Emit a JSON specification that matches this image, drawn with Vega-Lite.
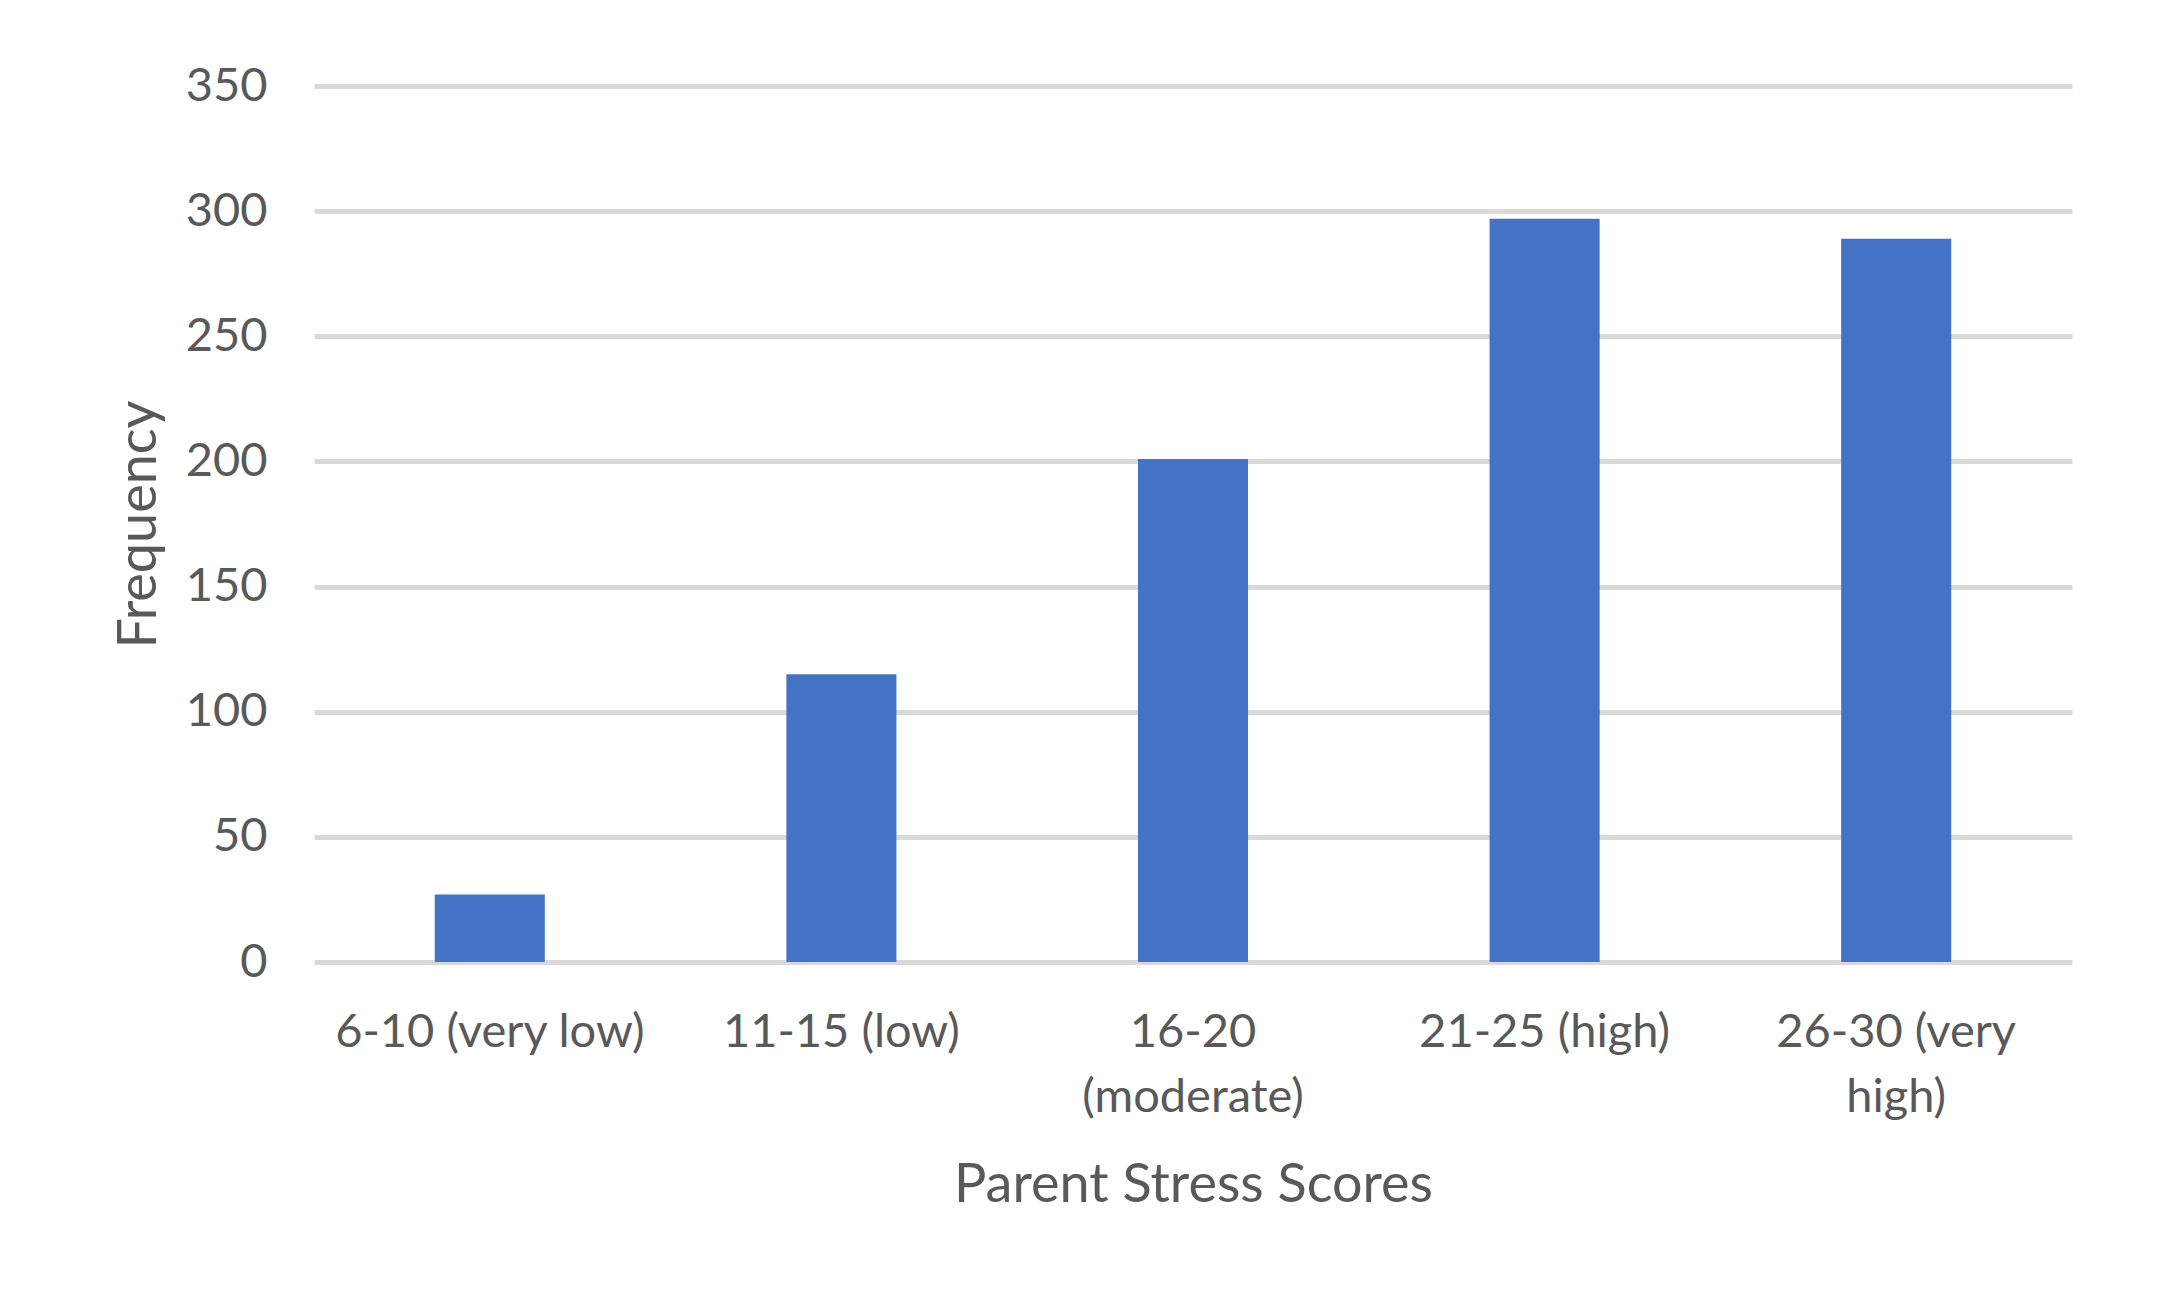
{
  "$schema": "https://vega.github.io/schema/vega-lite/v6.json",
  "autosize": {"type": "none"},
  "width": 1758,
  "height": 876,
  "padding": {"left": 314, "top": 86, "right": 87, "bottom": 350},
  "background": "white",
  "config": {
    "view": {"stroke": null},
    "font": "Lato",
    "axis": {"labelFont": "Lato", "titleFont": "Lato", "labelColor": "#595959", "titleColor": "#595959", "titleFontWeight": "normal"}
  },
  "data": {
    "values": [
      {"score": "6-10 (very low)", "frequency": 27},
      {"score": "11-15 (low)", "frequency": 115},
      {"score": "16-20 (moderate)", "frequency": 201},
      {"score": "21-25 (high)", "frequency": 297},
      {"score": "26-30 (very high)", "frequency": 289}
    ]
  },
  "mark": {"type": "bar", "color": "#4472C4"},
  "encoding": {
    "x": {
      "field": "score",
      "type": "nominal",
      "sort": null,
      "scale": {"paddingInner": 0.687, "paddingOuter": 0.3435},
      "axis": {
        "title": "Parent Stress Scores",
        "titleFontSize": 54,
        "titlePadding": 38,
        "labelFontSize": 47,
        "labelAngle": 0,
        "labelPadding": 47,
        "labelLineHeight": 65,
        "labelBaseline": "top",
        "labelLimit": 0,
        "domain": false,
        "ticks": false,
        "tickSize": 0,
        "labelExpr": "datum.value == '16-20 (moderate)' ? ['16-20', '(moderate)'] : datum.value == '26-30 (very high)' ? ['26-30 (very', 'high)'] : datum.value"
      }
    },
    "y": {
      "field": "frequency",
      "type": "quantitative",
      "scale": {"domain": [0, 350], "nice": false},
      "axis": {
        "title": "Frequency",
        "titleFontSize": 54,
        "titlePadding": 19,
        "labelFontSize": 47,
        "labelPadding": 47,
        "labelLimit": 0,
        "values": [0, 50, 100, 150, 200, 250, 300, 350],
        "domain": false,
        "ticks": false,
        "tickSize": 0,
        "grid": true,
        "gridColor": "#D9D9D9",
        "gridWidth": 5
      }
    }
  }
}
